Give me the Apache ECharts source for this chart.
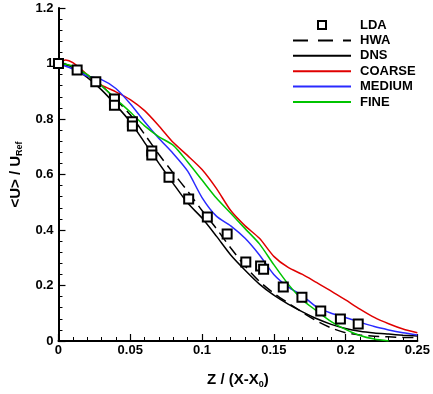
<!DOCTYPE html>
<html>
<head>
<meta charset="utf-8">
<script src="https://cdn.jsdelivr.net/npm/echarts@6/dist/echarts.min.js"></script>
<style>html,body{margin:0;padding:0;background:#fff}#c{width:433px;height:394px}</style>
</head>
<body>
<div id="c"></div>
<script>
// Grid of Z/(X-X0) positions for the simulated / HWA / DNS profiles
var zGrid = [0, 0.005, 0.01, 0.02, 0.03, 0.04, 0.05, 0.06, 0.07, 0.08, 0.09, 0.1, 0.11, 0.12, 0.13, 0.14, 0.15, 0.16, 0.17, 0.18, 0.19, 0.2, 0.21, 0.22, 0.23, 0.24, 0.25];
var dnsU    = [1.0, 0.995, 0.985, 0.95, 0.905, 0.85, 0.79, 0.715, 0.64, 0.567, 0.497, 0.443, 0.378, 0.31, 0.255, 0.205, 0.165, 0.133, 0.105, 0.08, 0.06, 0.045, 0.035, 0.029, 0.025, 0.021, 0.018];
var hwaU    = [1.0, 0.997, 0.988, 0.958, 0.92, 0.87, 0.815, 0.745, 0.672, 0.605, 0.54, 0.47, 0.405, 0.335, 0.27, 0.215, 0.172, 0.137, 0.103, 0.072, 0.047, 0.03, 0.022, 0.017, 0.015, 0.013, 0.012];
var coarseU = [1.005, 1.013, 1.003, 0.96, 0.922, 0.898, 0.87, 0.83, 0.775, 0.715, 0.668, 0.618, 0.55, 0.47, 0.415, 0.37, 0.305, 0.265, 0.24, 0.21, 0.18, 0.148, 0.115, 0.085, 0.062, 0.043, 0.03];
var mediumU = [0.997, 0.99, 0.98, 0.955, 0.942, 0.91, 0.855, 0.79, 0.73, 0.675, 0.612, 0.517, 0.45, 0.415, 0.37, 0.31, 0.24, 0.195, 0.163, 0.122, 0.1, 0.085, 0.068, 0.052, 0.04, 0.03, 0.022];
var fineU   = [1.0, 0.997, 0.99, 0.96, 0.92, 0.872, 0.825, 0.775, 0.736, 0.705, 0.645, 0.58, 0.515, 0.46, 0.405, 0.35, 0.275, 0.205, 0.148, 0.108, 0.07, 0.042, 0.02, 0.007, 0.0];
// LDA measurements
var ldaZ = [0, 0.013, 0.026, 0.039, 0.039, 0.0515, 0.0515, 0.065, 0.065, 0.077, 0.0907, 0.1037, 0.1175, 0.1305, 0.1408, 0.1429, 0.1566, 0.1696, 0.1827, 0.1964, 0.2088];
var ldaU = [1.0, 0.977, 0.934, 0.872, 0.85, 0.79, 0.775, 0.685, 0.67, 0.59, 0.512, 0.447, 0.386, 0.285, 0.27, 0.259, 0.195, 0.158, 0.108, 0.079, 0.061];
var xTicks = [0, 0.05, 0.1, 0.15, 0.2, 0.25];
var yTicks = [0, 0.2, 0.4, 0.6, 0.8, 1, 1.2];
var seriesNames = ['LDA', 'HWA', 'DNS', 'COARSE', 'MEDIUM', 'FINE'];

function pairs(xs, ys) { var o = []; for (var i = 0; i < ys.length; i++) o.push([xs[i], ys[i]]); return o; }

var FONT = '"Liberation Sans", Arial, Helvetica, sans-serif';
var chart = echarts.init(document.getElementById('c'), null, {renderer: 'canvas'});

function lineSeries(name, ys, color, type) {
  return {
    name: name, type: 'line', data: pairs(zGrid, ys), smooth: 0.25, symbol: 'none',
    lineStyle: {color: color, width: 1.5, type: type || 'solid'},
    itemStyle: {color: color}, z: 2, animation: false
  };
}

chart.setOption({
  animation: false,
  backgroundColor: '#fff',
  grid: {left: 55, right: 14, top: 8, bottom: 53, containLabel: false},
  xAxis: {
    type: 'value', min: xTicks[0], max: xTicks[xTicks.length - 1], interval: 0.05,
    name: '{a|Z / (X-X}{s|0}{a|)}', nameLocation: 'middle', nameGap: 30,
    nameTextStyle: {rich: {
      a: {fontFamily: FONT, fontWeight: 'bold', fontSize: 15, color: '#000', lineHeight: 18},
      s: {fontFamily: FONT, fontWeight: 'bold', fontSize: 9, color: '#000', lineHeight: 10, verticalAlign: 'bottom'}
    }},
    axisLine: {lineStyle: {color: '#000', width: 2}},
    axisTick: {inside: true, length: 7, lineStyle: {color: '#000', width: 1.2}},
    minorTick: {show: true, splitNumber: 5, length: 4, lineStyle: {color: '#000', width: 1}},
    splitLine: {show: false},
    axisLabel: {margin: 3, color: '#000', fontFamily: FONT, fontWeight: 'bold', fontSize: 13,
      formatter: function (v) { return String(+v.toFixed(2)); }}
  },
  yAxis: {
    type: 'value', min: yTicks[0], max: yTicks[yTicks.length - 1], interval: 0.2,
    name: '{a|<U> / U}{s|Ref}', nameLocation: 'middle', nameGap: 29,
    nameTextStyle: {rich: {
      a: {fontFamily: FONT, fontWeight: 'bold', fontSize: 15, color: '#000', lineHeight: 18},
      s: {fontFamily: FONT, fontWeight: 'bold', fontSize: 9, color: '#000', lineHeight: 10, verticalAlign: 'bottom'}
    }},
    axisLine: {show: true, lineStyle: {color: '#000', width: 2}},
    axisTick: {show: true, inside: true, length: 7, lineStyle: {color: '#000', width: 1.2}},
    minorTick: {show: true, splitNumber: 5, length: 4, lineStyle: {color: '#000', width: 1}},
    splitLine: {show: false},
    axisLabel: {margin: 5, color: '#000', fontFamily: FONT, fontWeight: 'bold', fontSize: 13,
      formatter: function (v) { return String(+v.toFixed(2)); }}
  },
  legend: {
    orient: 'vertical', left: 292, top: 18, padding: 0, itemWidth: 58, itemHeight: 10, itemGap: 1.4,
    selectedMode: false,
    itemStyle: {opacity: 0},
    textStyle: {fontFamily: FONT, fontWeight: 'bold', fontSize: 13, color: '#000', lineHeight: 14, padding: [0, 0, 0, 4]},
    data: [
      {name: 'LDA', itemStyle: {opacity: 1}, lineStyle: {opacity: 0}},
      {name: 'HWA', lineStyle: {type: [15, 10]}}, {name: 'DNS'}, {name: 'COARSE'}, {name: 'MEDIUM'}, {name: 'FINE'}
    ]
  },
  series: [
    {
      name: 'LDA', type: 'line', data: pairs(ldaZ, ldaU), symbol: 'emptyRect', symbolSize: 9,
      showSymbol: true, showAllSymbol: true, clip: false,
      lineStyle: {opacity: 0, width: 0}, itemStyle: {color: '#000', borderColor: '#000', borderWidth: 1.6},
      z: 5, animation: false
    },
    lineSeries('HWA', hwaU, '#000', [11, 6]),
    lineSeries('DNS', dnsU, '#000'),
    lineSeries('COARSE', coarseU, '#e00000'),
    lineSeries('MEDIUM', mediumU, '#2a2aff'),
    lineSeries('FINE', fineU, '#00c400')
  ]
});
</script>
</body>
</html>
